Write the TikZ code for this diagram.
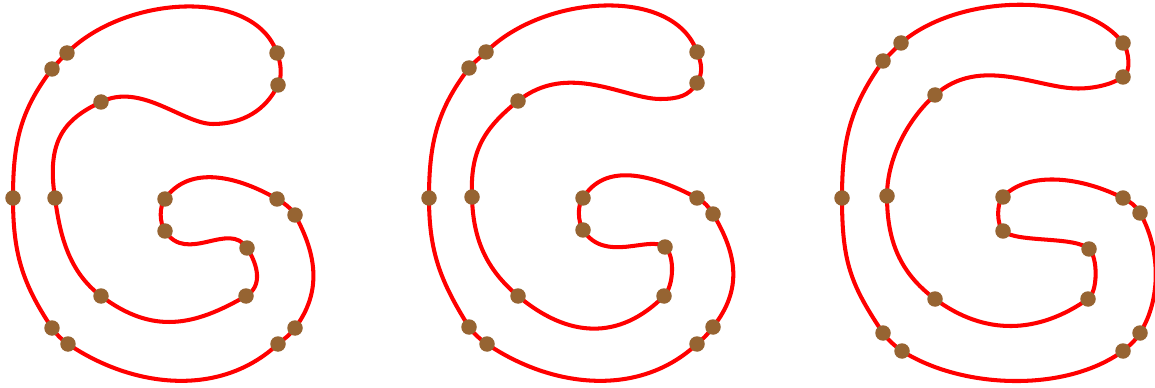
\documentclass[tikz,border=0pt]{standalone}
\usepackage{tikz}
\definecolor{gred}{RGB}{255,0,0}
\definecolor{gbrown}{RGB}{150,100,50}
\tikzset{
  outline/.style={draw=gred, line width=2.3pt, line join=round},
  ptdot/.style={fill=gbrown}
}

\begin{document}
\begin{tikzpicture}[x=0.02cm, y=-0.02cm]
  \useasboundingbox (0,0) rectangle (1155,388);

  % First G
  \coordinate (a1) at (67,53);   \coordinate (b1) at (277,53);
  \coordinate (c1) at (278,85);  \coordinate (w1) at (213,124); % dip, no dot
  \coordinate (d1) at (101,102); \coordinate (e1) at (55,198);
  \coordinate (f1) at (101,296); \coordinate (g1) at (246,296);
  \coordinate (h1) at (247,248); \coordinate (i1) at (165,231);
  \coordinate (j1) at (165,199); \coordinate (k1) at (277,199);
  \coordinate (l1) at (295,215); \coordinate (m1) at (295,328);
  \coordinate (n1) at (278,344); \coordinate (o1) at (68,344);
  \coordinate (p1) at (52,328);  \coordinate (q1) at (13,198);
  \coordinate (r1) at (52,69);

  \draw[outline] (a1) .. controls +(58,-58) and +(-23,-66) .. (b1)
    .. controls +(4,10) and +(4.5,-9) .. (c1)
    .. controls +(-12,25) and +(30,0) .. (w1)
    .. controls +(-30,0) and +(40,-20) .. (d1)
    .. controls +(-36,17) and +(-9,-58) .. (e1)
    .. controls +(5,38) and +(-32,-24) .. (f1)
    .. controls +(52,39) and +(-52,30) .. (g1)
    .. controls +(17,-10) and +(11,17) .. (h1)
    .. controls +(-18,-28) and +(22,34) .. (i1)
    .. controls +(-5.5,-8.5) and +(-6,8) .. (j1)
    .. controls +(22,-32) and +(-45,-26) .. (k1)
    .. controls +(7,4) and +(-4,-7) .. (l1)
    .. controls +(22,40) and +(27,-36) .. (m1)
    .. controls +(-6,8) and +(7,-6) .. (n1)
    .. controls +(-58,54) and +(65,44) .. (o1)
    .. controls +(-6,-4) and +(4,6) .. (p1)
    .. controls +(-30,-45) and +(0,55) .. (q1)
    .. controls +(0,-55) and +(-32,42) .. (r1)
    .. controls +(5,-6) and +(-5,5) .. (a1) -- cycle;

  % Second G
  \coordinate (a2) at (486,52);  \coordinate (b2) at (697,52);
  \coordinate (c2) at (697,83);  \coordinate (w2) at (660,99);
  \coordinate (d2) at (518,101); \coordinate (e2) at (472,197);
  \coordinate (f2) at (518,296); \coordinate (g2) at (664,296);
  \coordinate (h2) at (665,247); \coordinate (i2) at (583,230);
  \coordinate (j2) at (583,198); \coordinate (k2) at (697,198);
  \coordinate (l2) at (713,214); \coordinate (m2) at (713,327);
  \coordinate (n2) at (697,344); \coordinate (o2) at (487,344);
  \coordinate (p2) at (469,327); \coordinate (q2) at (429,198);
  \coordinate (r2) at (469,68);

  \draw[outline] (a2) .. controls +(58,-58) and +(-23,-66) .. (b2)
    .. controls +(5,12) and +(6,-10) .. (c2)
    .. controls +(-8,13) and +(18,0) .. (w2)
    .. controls +(-35,0) and +(50,-40) .. (d2)
    .. controls +(-35,28) and +(-2,-45) .. (e2)
    .. controls +(1,42) and +(-32,-27) .. (f2)
    .. controls +(50,42) and +(-45,45) .. (g2)
    .. controls +(10,-10) and +(10,8) .. (h2)
    .. controls +(-16,-12) and +(22,34) .. (i2)
    .. controls +(-5,-8) and +(-6,7) .. (j2)
    .. controls +(22,-36) and +(-45,-24) .. (k2)
    .. controls +(7,3.5) and +(-4,-7) .. (l2)
    .. controls +(24,40) and +(30,-38) .. (m2)
    .. controls +(-6,8) and +(7,-6) .. (n2)
    .. controls +(-58,54) and +(65,44) .. (o2)
    .. controls +(-6,-4) and +(4,6) .. (p2)
    .. controls +(-28,-45) and +(0,55) .. (q2)
    .. controls +(0,-55) and +(-32,42) .. (r2)
    .. controls +(5,-6) and +(-5,5) .. (a2) -- cycle;

  % Third G
  \coordinate (a3) at (901,43);   \coordinate (b3) at (1123,43);
  \coordinate (c3) at (1123,77);  \coordinate (w3) at (1078,88.5);
  \coordinate (d3) at (935,95);   \coordinate (e3) at (887,196);
  \coordinate (f3) at (935,299);  \coordinate (g3) at (1088,299);
  \coordinate (h3) at (1089,249); \coordinate (i3) at (1003,231);
  \coordinate (j3) at (1003,197); \coordinate (k3) at (1123,198);
  \coordinate (l3) at (1140,213); \coordinate (m3) at (1140,333);
  \coordinate (n3) at (1123,351); \coordinate (o3) at (902,351);
  \coordinate (p3) at (883,333);  \coordinate (q3) at (842,198);
  \coordinate (r3) at (883,61);

  \draw[outline] (a3) .. controls +(58,-50) and +(-40,-52) .. (b3)
    .. controls +(6,8) and +(8.5,-5) .. (c3)
    .. controls +(-12,8) and +(15,0) .. (w3)
    .. controls +(-40,0) and +(45,-40) .. (d3)
    .. controls +(-25,22) and +(0,-40) .. (e3)
    .. controls +(0,45) and +(-35,-26) .. (f3)
    .. controls +(50,37) and +(-50,35) .. (g3)
    .. controls +(10,-7) and +(9,8) .. (h3)
    .. controls +(-14,-13) and +(14,12) .. (i3)
    .. controls +(-6,-6) and +(-7,6.5) .. (j3)
    .. controls +(22,-24) and +(-48,-24) .. (k3)
    .. controls +(7,3.5) and +(-4,-7) .. (l3)
    .. controls +(20,35) and +(22,-35) .. (m3)
    .. controls +(-5,8) and +(7,-6) .. (n3)
    .. controls +(-58,42) and +(60,38) .. (o3)
    .. controls +(-6,-4) and +(4,6) .. (p3)
    .. controls +(-32,-48) and +(0,65) .. (q3)
    .. controls +(0,-60) and +(-32,45) .. (r3)
    .. controls +(6,-6) and +(-6,6) .. (a3) -- cycle;

  % on-curve points
  \foreach \g in {1,2,3}
    \foreach \p in {a,...,r}
      \fill[ptdot] (\p\g) circle (0.155cm);
\end{tikzpicture}
\end{document}
